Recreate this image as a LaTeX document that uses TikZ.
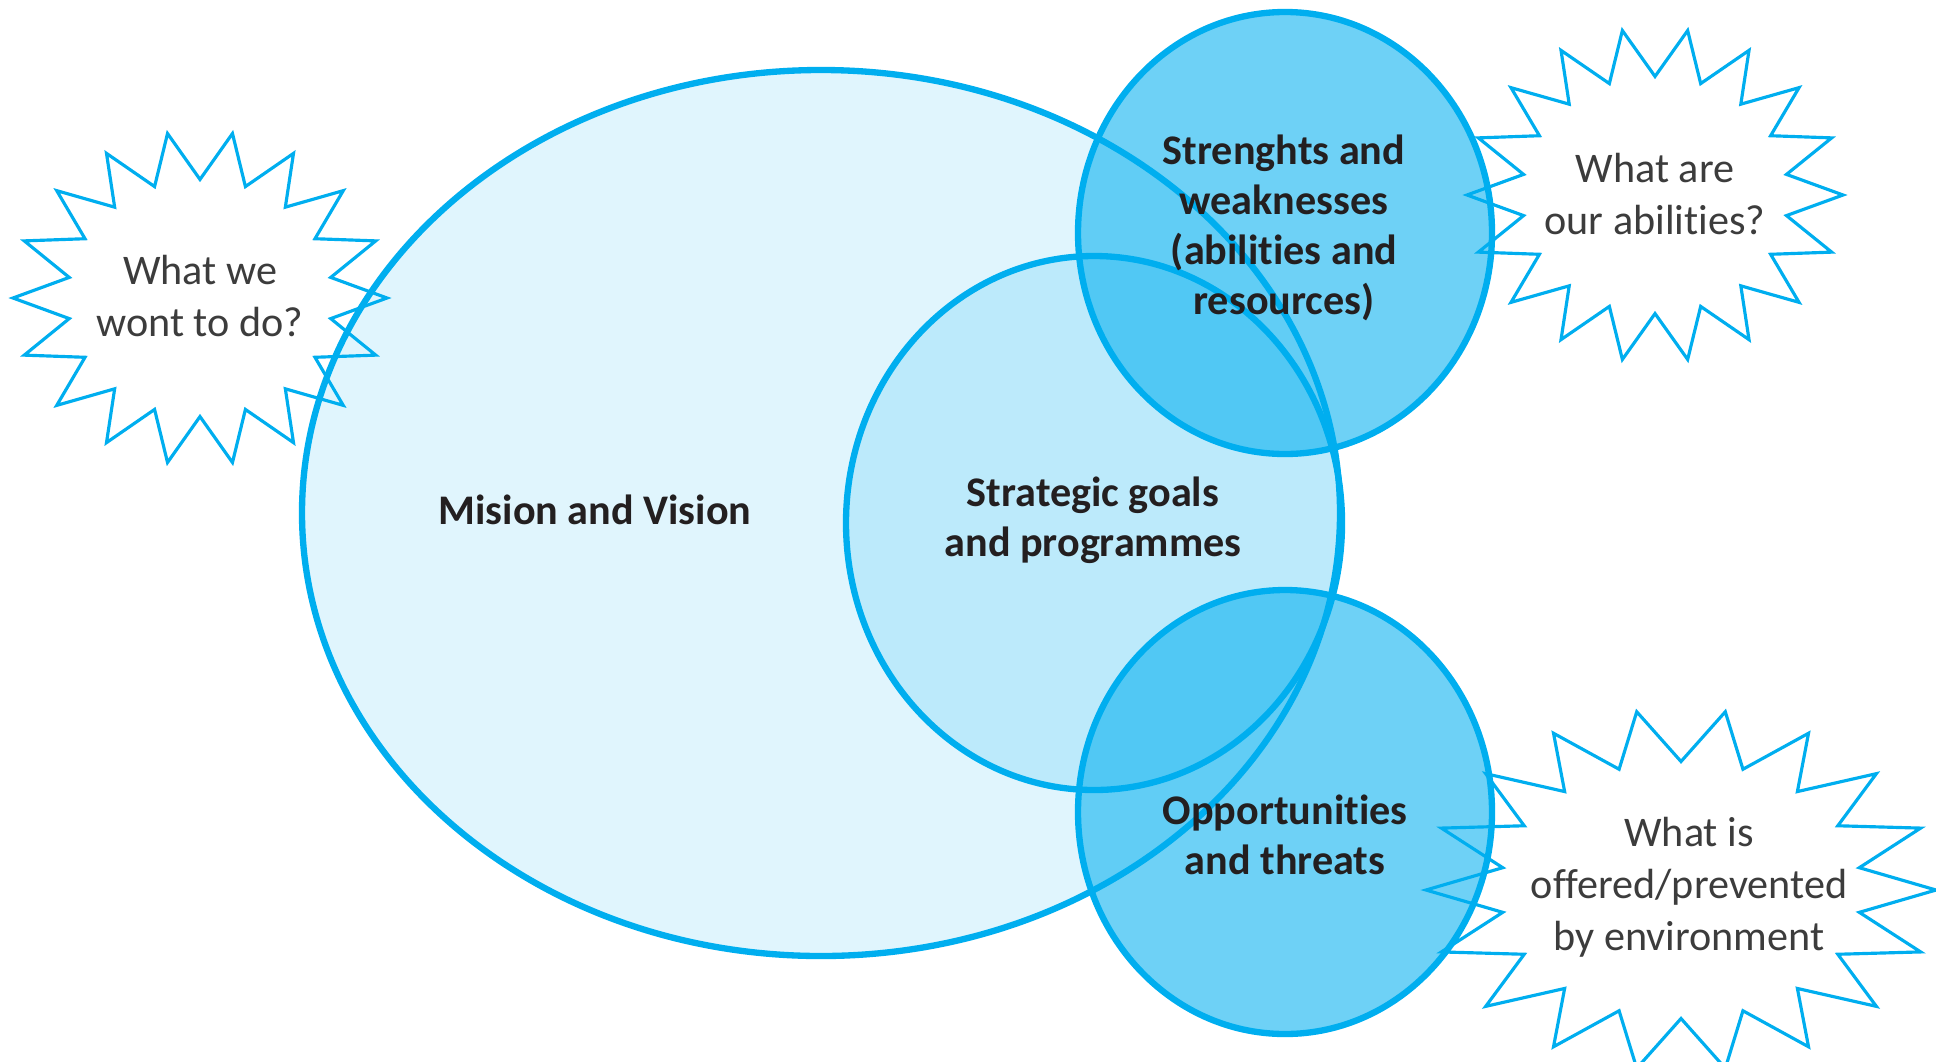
\documentclass[tikz,border=0pt]{standalone}
\usepackage{fontspec}
\setmainfont{Carlito}[Ligatures=NoCommon]

\definecolor{venncyan}{RGB}{0,174,239}
\definecolor{inktext}{RGB}{35,31,32}
\definecolor{asktext}{RGB}{60,60,60}

\begin{document}
\begin{tikzpicture}[x=0.1mm,y=-0.1mm,
  rim/.style={draw=venncyan,line width=1.8pt},
  burst/.style={draw=venncyan,line width=0.9pt,line join=miter},
  vennlabel/.style={align=center,text=inktext,font=\fontsize{12}{14.2}\selectfont\bfseries},
  ask/.style={align=center,text=asktext,font=\fontsize{12}{14.8}\selectfont}]
\useasboundingbox (0,0) rectangle (1936,1061);
\clip (0,0) rectangle (1936,1061);

% starbursts behind the circles
\foreach \cx/\cy/\rx/\ry in {200/298/187/167, 1655/195/188/167, 1681/890/255/181}
  \draw[burst] (\cx+\rx,\cy) \foreach \k in {1,...,35}{
    -- ({\cx+(1-0.29*mod(\k,2))*\rx*cos(10*\k)},{\cy-(1-0.29*mod(\k,2))*\ry*sin(10*\k)}) } -- cycle;

% fills first
\fill[venncyan,fill opacity=0.12] (821,513) ellipse [x radius=519,y radius=443];
\fill[venncyan,fill opacity=0.16] (1094,523) ellipse [x radius=248,y radius=267];
\fill[venncyan,fill opacity=0.57] (1285,233) ellipse [x radius=207,y radius=221];
\fill[venncyan,fill opacity=0.57] (1285,812) ellipse [x radius=207,y radius=222];

% then the rims
\draw[rim] (821,513) ellipse [x radius=519,y radius=443];
\draw[rim] (1094,523) ellipse [x radius=248,y radius=267];
\draw[rim] (1285,233) ellipse [x radius=207,y radius=221];
\draw[rim] (1285,812) ellipse [x radius=207,y radius=222];

\node[vennlabel] (mision) at (595,510) {Mision and Vision};
\node[vennlabel] (goals) at (1093,520) {Strategic goals\\and programmes};
\node[vennlabel] (strengths) at (1284,228) {Strenghts and\\weaknesses\\(abilities and\\resources)};
\node[vennlabel] (chances) at (1285,835) {Opportunities\\and threats};

\node[ask] (askdo) at (200,296) {What we\\wont to do?};
\node[ask] (askable) at (1655,194) {What are\\our abilities?};
\node[ask] (askenv) at (1689,887) {What is\\offered/prevented\\by environment};
\end{tikzpicture}
\end{document}
